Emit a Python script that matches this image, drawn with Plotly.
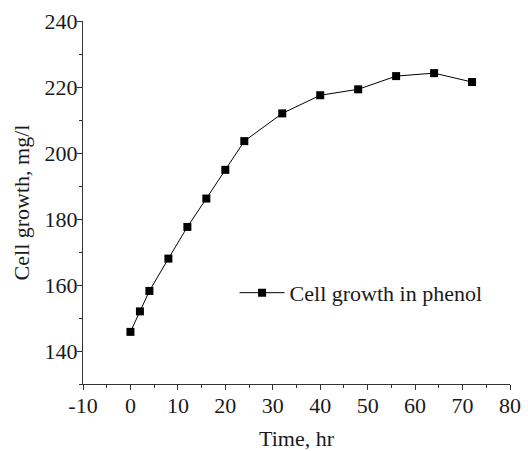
import plotly.graph_objects as go

time_hr = [0, 2, 4, 8, 12, 16, 20, 24, 32, 40, 48, 56, 64, 72]
cell_growth = [145.8, 152.0, 158.2, 168.0, 177.6, 186.2, 194.9, 203.6, 212.0, 217.5, 219.3, 223.3, 224.2, 221.5]
series_name = "Cell growth in phenol"
x_tick_vals = [-10, 0, 10, 20, 30, 40, 50, 60, 70, 80]
x_tick_text = ["-10", "0", "10", "20", "30", "40", "50", "60", "70", "80"]

FONT = "Liberation Serif, Times New Roman, serif"

fig = go.Figure()
fig.add_trace(go.Scatter(
    x=time_hr, y=cell_growth, mode="lines+markers", name=series_name,
    line=dict(color="#000000", width=1),
    marker=dict(symbol="square", size=8, color="#000000"),
))

axis_common = dict(
    showline=True, linecolor="#333333", linewidth=1, mirror=False,
    ticks="outside", ticklen=5, tickwidth=1, tickcolor="#333333",
    showgrid=False, zeroline=False, automargin=False,
    tickfont=dict(family=FONT, size=22, color="#1a1a1a"),
)

fig.update_layout(
    width=528, height=451,
    margin=dict(l=83, r=18, t=21, b=67),
    paper_bgcolor="white", plot_bgcolor="white",
    font=dict(family=FONT, size=22, color="#1a1a1a"),
    showlegend=True,
    legend=dict(x=0.355, y=0.251, xanchor="left", yanchor="middle",
                bgcolor="rgba(0,0,0,0)", font=dict(family=FONT, size=22),
                itemwidth=45),
    xaxis=dict(range=[-10, 80], tickvals=x_tick_vals, ticktext=x_tick_text,
               ticklabelstandoff=-3,
               minor=dict(ticks="outside", ticklen=3, dtick=5, tick0=0, tickcolor="#333333"),
               title=dict(text="Time, hr", font=dict(family=FONT, size=22), standoff=20),
               **axis_common),
    yaxis=dict(range=[130, 240], dtick=20, tick0=140,
               ticklabelstandoff=-5,
               minor=dict(ticks="outside", ticklen=3, dtick=10, tickcolor="#333333"),
               title=dict(text="Cell growth, mg/l", font=dict(family=FONT, size=22), standoff=8),
               **axis_common),
)

fig.write_html("out.html")
